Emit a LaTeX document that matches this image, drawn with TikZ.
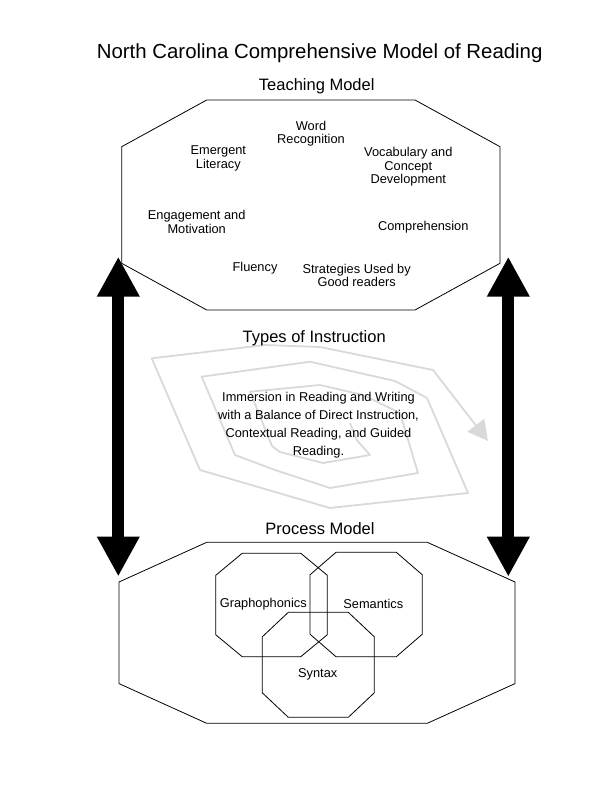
\documentclass[tikz,border=0pt]{standalone}
\usepackage{fontspec}
\setmainfont{Liberation Sans}
\usepackage{tikz}
\usetikzlibrary{arrows.meta}
\usepackage{xcolor}
\definecolor{SpiralGray}{HTML}{D9D9D9}
% octagon from its box and its corner cuts
\newcommand{\octa}[6]{\draw[octline] (#1+#5,#2) -- (#3-#5,#2) -- (#3,#2+#6) -- (#3,#4-#6) -- (#3-#5,#4) -- (#1+#5,#4) -- (#1,#4-#6) -- (#1,#2+#6) -- cycle;}

\begin{document}
\begin{tikzpicture}[x=1pt, y=-1pt,
    octline/.style={black, line width=0.8pt},
    itemtext/.style={font=\fontsize{12.8}{13.5}\selectfont, align=center, inner sep=0pt},
    headtext/.style={font=\fontsize{16.5}{18}\selectfont, inner sep=0pt},
    bigarrow/.style={line width=12pt, {Triangle[length=40pt,width=40pt]}-{Triangle[length=40pt,width=40pt]}},
    spiralline/.style={SpiralGray, line width=1.8pt, line join=round, -{Triangle[length=20pt,width=21pt]}}]
                \useasboundingbox (0,0) rectangle (612,792);
                
                % Title
                \node[font=\fontsize{20.4}{22}\selectfont, inner sep=0pt] (title) at (319.7,53.5) {North Carolina Comprehensive Model of Reading};
                
                % Teaching model
                \node[headtext] (teach) at (316.7,86) {Teaching Model};
                \octa{121.7}{100}{500}{310}{85}{46.7}
                \node[itemtext] (word) at (311,133.5) {Word\\Recognition};
                \node[itemtext] (emergent) at (218.3,158.3) {Emergent\\Literacy};
                \node[itemtext] (vocab) at (408.3,166.7) {Vocabulary and\\Concept\\Development};
                \node[itemtext] (engage) at (196.7,222) {Engagement and\\Motivation};
                \node[itemtext] (compre) at (423.3,226.7) {Comprehension};
                \node[itemtext] (fluency) at (255,268.3) {Fluency};
                \node[itemtext] (strategies) at (356.7,275.5) {Strategies Used by\\Good readers};
                
                % Spiral behind the types of instruction
                \draw[spiralline] (350,423) -- (356.7,440) -- (370,455) -- (323,463) -- (280,452) -- (272,446)
                    -- (250,391.7) -- (320,385) -- (363,395) -- (400,413) -- (418,473) -- (330,488)
                    -- (275,470) -- (235,455) -- (201.7,376.7) -- (310,361.7) -- (395,381) -- (427,398)
                    -- (468,493) -- (330,508) -- (200,470) -- (151.7,358.3) -- (265,345) -- (320,347)
                    -- (433,370) -- (488,441);
                
                % Types of instruction
                \node[headtext] (types) at (314.2,338) {Types of Instruction};
                \node[itemtext, font=\fontsize{12.8}{18}\selectfont] (immersion) at (318.5,425.5) {Immersion in Reading and Writing\\with a Balance of Direct Instruction,\\Contextual Reading, and Guided\\Reading.};
                
                % Arrows between the two models
                \coordinate (lefttop) at (118.3,256.7);
                \coordinate (leftbot) at (118.3,576.5);
                \coordinate (righttop) at (508.3,256.7);
                \coordinate (rightbot) at (508.3,576.7);
                \draw[bigarrow] (lefttop) -- (leftbot);
                \draw[bigarrow] (righttop) -- (rightbot);
                
                % Process model
                \node[headtext] (process) at (320,528.3) {Process Model};
                \octa{119}{542.3}{515}{723.3}{87.7}{39.7}
                \octa{215.7}{553.3}{327.3}{656.7}{26.5}{22}
                \octa{310}{552.3}{422.3}{656.7}{26}{22.5}
                \octa{262.3}{612.3}{374.3}{717.3}{26}{24.5}
                \node[itemtext] (grapho) at (263.3,604.3) {Graphophonics};
                \node[itemtext] (semant) at (373.3,604.3) {Semantics};
                \node[itemtext] (syntax) at (317.7,674.3) {Syntax};
\end{tikzpicture}
\end{document}
